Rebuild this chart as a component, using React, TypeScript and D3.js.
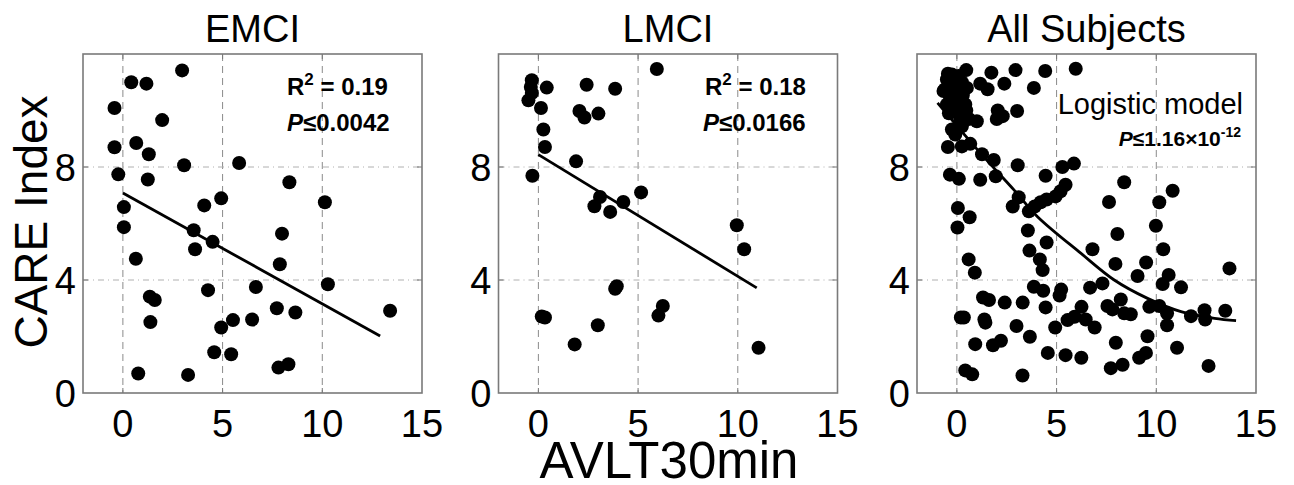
import React from "react";
import * as d3 from "d3";

// ---------- data ----------
const panelTitles = ["EMCI", "LMCI", "All Subjects"];
const xTicks = [0, 5, 10, 15];
const yTicks = [0, 4, 8];
const xGrid = [0, 5, 10];
const yGrid = [4, 8];

const emciX = [2.97, 0.42, 1.18, -0.42, 1.97, -0.42, 0.67, 1.3, 3.07, 5.83, -0.23, 1.25, 8.35, 0.05, 4.08, 4.93, 10.13, 0.05, 3.55, 4.5, 3.62, 7.98, 0.65, 7.87, 10.28, 4.27, 6.67, 1.35, 1.6, 1.38, 5.52, 4.93, 6.48, 7.72, 8.65, 13.4, 4.58, 5.43, 7.8, 8.3, 0.77, 3.27];
const emciY = [11.42, 11.0, 10.95, 10.09, 9.66, 8.7, 8.85, 8.45, 8.06, 8.14, 7.74, 7.56, 7.46, 6.58, 6.64, 6.89, 6.75, 5.87, 5.76, 5.35, 5.09, 5.64, 4.75, 4.56, 3.85, 3.64, 3.75, 3.41, 3.29, 2.51, 2.58, 2.32, 2.6, 3.0, 2.85, 2.91, 1.44, 1.37, 0.9, 1.02, 0.69, 0.64];
const emciFitX = [0, 12.9];
const emciFitY = [7.08, 2.02];

const lmciX = [5.94, -0.33, -0.38, -0.33, -0.5, 0.42, 2.42, 3.85, 0.13, 2.06, 2.31, 3.01, 0.25, 0.33, 1.89, -0.3, 5.15, 3.09, 2.81, 3.6, 4.26, 9.95, 10.32, 3.93, 3.85, 6.24, 6.02, 0.17, 0.33, 2.98, 1.82, 11.04];
const lmciY = [11.47, 11.07, 10.83, 10.62, 10.36, 10.81, 10.91, 10.77, 10.09, 9.98, 9.75, 9.89, 9.33, 8.71, 8.2, 7.69, 7.1, 6.94, 6.61, 6.41, 6.76, 5.94, 5.09, 3.78, 3.69, 3.08, 2.74, 2.71, 2.67, 2.4, 1.72, 1.6];
const lmciFitX = [0, 10.95];
const lmciFitY = [8.44, 3.72];

const allX = [
  0.47, -0.25, 0.08, -0.5, 0.25, -0.59, 0.0, 0.5, -0.34, 0.17, -0.5, 0.42, -0.08, 0.47, 0.17, -0.25, 0.25, -0.08, -0.67, -0.4, 0.6,
  -0.2, 0.3, -0.45, 0.1,
  1.0, 1.17, 1.54, 1.73, 2.38, 2.94, 3.86, 4.43, 5.96, 2.05, 2.0, 2.3, 3.02,
  -0.45, 0.25, 0.67, 1.26, 1.85, 3.05, 5.29, 5.87,
  -0.35, 0.1, 1.17, 1.95, 4.45, 8.39,
  3.61, 3.9, 4.2, 4.5, 4.95, 5.2, 5.45, 3.1, 2.8, 0.05, 0.64, 7.63, 10.15, 10.82,
  0.03, 3.56, 3.64, 4.5, 8.05, 9.98, 10.35, 6.8,
  0.59, 0.9, 4.16, 4.3, 7.95, 9.49, 9.06, 10.62, 13.67,
  3.86, 4.33, 5.23, 5.15, 6.68, 7.3, 10.32, 11.24,
  1.31, 1.61, 2.4, 3.3, 4.45, 6.25, 7.55, 8.22, 9.65, 10.15,
  0.2, 0.35, 1.38, 1.43, 5.55, 5.9, 6.46, 7.8, 8.39, 8.72, 10.54, 11.74, 12.42, 12.45, 13.46,
  2.99, 4.93, 6.91, 10.54, 3.66, 9.56,
  0.92, 1.81, 2.21, 4.56, 5.45, 6.24, 7.97, 11.04, 9.48, 9.14,
  0.42, 0.77, 3.29, 7.72, 8.31, 12.62,
];
const allY = [
  11.43, 11.27, 11.22, 11.1, 11.0, 10.75, 10.75, 10.8, 10.45, 10.39, 10.21, 10.21, 10.09, 10.0, 9.68, 9.33, 9.44, 9.15, 10.69, 9.9, 9.7,
  10.95, 10.55, 11.3, 9.95,
  9.62, 10.95, 10.75, 11.34, 10.95, 11.43, 10.8, 11.4, 11.48, 10.0, 9.7, 9.8, 9.98,
  8.71, 8.73, 8.82, 8.45, 8.25, 8.06, 8.0, 8.12,
  7.73, 7.58, 7.55, 7.67, 7.69, 7.46,
  6.43, 6.6, 6.75, 6.85, 6.96, 7.14, 7.37, 6.93, 6.6, 6.55, 6.22, 6.76, 6.75, 7.16,
  5.86, 5.75, 5.04, 5.33, 5.63, 5.92, 5.09, 5.09,
  4.73, 4.26, 4.73, 4.35, 4.57, 4.62, 4.14, 4.18, 4.41,
  3.76, 3.62, 3.66, 3.45, 3.73, 3.88, 3.86, 3.74,
  3.38, 3.29, 3.2, 3.2, 3.03, 3.05, 3.08, 3.31, 3.05, 3.08,
  2.67, 2.67, 2.6, 2.49, 2.58, 2.7, 2.6, 2.96, 2.82, 2.79, 2.82, 2.72, 2.93, 2.6, 2.91,
  2.37, 2.32, 2.32, 2.4, 1.99, 2.01,
  1.73, 1.69, 1.85, 1.42, 1.34, 1.25, 1.78, 1.6, 1.42, 1.25,
  0.8, 0.66, 0.62, 0.88, 1.0, 0.96,
];
const allFitX = [-0.97, 1.17, 2.85, 4.03, 6.21, 7.89, 9.56, 11.24, 12.92, 14.0];
const allFitY = [10.27, 8.5, 7.2, 6.25, 4.95, 4.0, 3.35, 2.88, 2.64, 2.56];

// ---------- layout ----------
const W = 1294;
const H = 485;
const panelLefts = [83, 498.5, 917];
const panelW = 339;
const top = 54;
const bottom = 393;
const FONT = "'Liberation Sans', Arial, Helvetica, sans-serif";

type Panel = {
  title: string;
  xs: number[];
  ys: number[];
  fx: number[];
  fy: number[];
  curved: boolean;
};

const panels: Panel[] = [
  { title: panelTitles[0], xs: emciX, ys: emciY, fx: emciFitX, fy: emciFitY, curved: false },
  { title: panelTitles[1], xs: lmciX, ys: lmciY, fx: lmciFitX, fy: lmciFitY, curved: false },
  { title: panelTitles[2], xs: allX, ys: allY, fx: allFitX, fy: allFitY, curved: true },
];

function PanelView({ p, left, idx }: { p: Panel; left: number; idx: number }) {
  const x = d3.scaleLinear().domain([-2, 15]).range([left, left + panelW]);
  const y = d3.scaleLinear().domain([0, 12]).range([bottom, top]);
  const line = d3
    .line<number>()
    .x((_, i) => x(p.fx[i]))
    .y((_, i) => y(p.fy[i]))
    .curve(p.curved ? d3.curveCatmullRom : d3.curveLinear);
  const pathD = line(p.fx) || "";
  const tickLen = 5;
  return (
    <g>
      <text x={x(6.5)} y={42} textAnchor="middle" fontSize={38} fontFamily={FONT}>
        {p.title}
      </text>
      {xGrid.map((v) => (
        <line key={"gx" + v} x1={x(v)} x2={x(v)} y1={top} y2={bottom} stroke="#8a8a8a" strokeWidth={1} strokeDasharray="7,5" />
      ))}
      {yGrid.map((v) => (
        <line key={"gy" + v} x1={left} x2={left + panelW} y1={y(v)} y2={y(v)} stroke="#b0b0b0" strokeWidth={1} strokeDasharray="6,4,1,4" />
      ))}
      {xGrid.map((v) => (
        <g key={"tx" + v}>
          <line x1={x(v)} x2={x(v)} y1={bottom} y2={bottom - tickLen} stroke="#777" />
          <line x1={x(v)} x2={x(v)} y1={top} y2={top + tickLen} stroke="#777" />
        </g>
      ))}
      {yGrid.map((v) => (
        <g key={"ty" + v}>
          <line x1={left} x2={left + tickLen} y1={y(v)} y2={y(v)} stroke="#777" />
          <line x1={left + panelW} x2={left + panelW - tickLen} y1={y(v)} y2={y(v)} stroke="#777" />
        </g>
      ))}
      <rect x={left} y={top} width={panelW} height={bottom - top} fill="none" stroke="#7a7a7a" strokeWidth={1.6} />
      {xTicks.map((v) => (
        <text key={"xl" + v} x={x(v)} y={437} textAnchor="middle" fontSize={38} fontFamily={FONT}>
          {v}
        </text>
      ))}
      {yTicks.map((v) => (
        <text key={"yl" + v} x={left - 7} y={y(v)} dy="0.36em" textAnchor="end" fontSize={38} fontFamily={FONT}>
          {v}
        </text>
      ))}
      {p.xs.map((v, i) => (
        <circle key={"pt" + i} cx={x(v)} cy={y(p.ys[i])} r={7} fill="#000" />
      ))}
      <path d={pathD} fill="none" stroke="#000" strokeWidth={2.8} />
      {idx === 0 && (
        <g fontFamily={FONT} fontWeight="bold" fontSize={24}>
          <text x={287} y={95}>
            R<tspan dy={-10} fontSize={17}>2</tspan>
            <tspan dy={10}> = 0.19</tspan>
          </text>
          <text x={287} y={131}>
            <tspan fontStyle="italic">P</tspan>≤0.0042
          </text>
        </g>
      )}
      {idx === 1 && (
        <g fontFamily={FONT} fontWeight="bold" fontSize={24}>
          <text x={705} y={95}>
            R<tspan dy={-10} fontSize={17}>2</tspan>
            <tspan dy={10}> = 0.18</tspan>
          </text>
          <text x={703} y={131}>
            <tspan fontStyle="italic">P</tspan>≤0.0166
          </text>
        </g>
      )}
      {idx === 2 && (
        <g fontFamily={FONT}>
          <text x={1243} y={114} textAnchor="end" fontSize={29}>
            Logistic model
          </text>
          <text x={1241} y={146} textAnchor="end" fontSize={21} fontWeight="bold">
            <tspan fontStyle="italic">P</tspan>≤1.16×10<tspan dy={-9} fontSize={14}>-12</tspan>
          </text>
        </g>
      )}
    </g>
  );
}

export default function App() {
  return (
    <svg
      width={W}
      height={H}
      style={{ position: "absolute", left: 0, top: 0, background: "#fff" }}
    >
      <rect x={0} y={0} width={W} height={H} fill="#fff" />
      {panels.map((p, i) => (
        <PanelView key={i} p={p} left={panelLefts[i]} idx={i} />
      ))}
      <text
        transform={`translate(47, 222) rotate(-90)`}
        textAnchor="middle"
        fontSize={46}
        fontFamily={FONT}
      >
        CARE Index
      </text>
      <text x={669} y={478} textAnchor="middle" fontSize={51} fontFamily={FONT}>
        AVLT30min
      </text>
    </svg>
  );
}
